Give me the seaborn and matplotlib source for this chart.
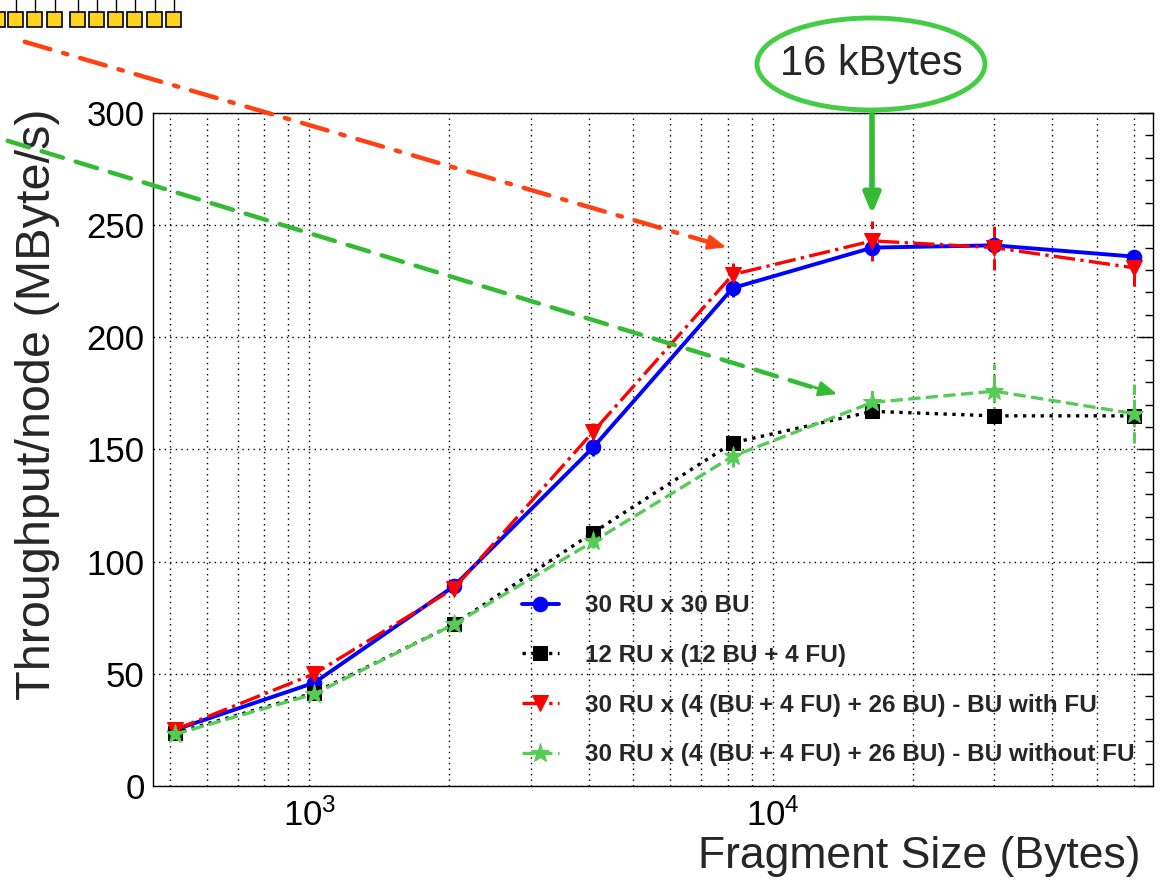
import numpy as np
import pandas as pd
import seaborn as sns
import matplotlib.pyplot as plt
from matplotlib.patches import Ellipse, Rectangle
from matplotlib.lines import Line2D
from matplotlib.ticker import LogLocator, MultipleLocator, NullFormatter

# fragment sizes (bytes)
frag = [512, 1024, 2048, 4096, 8192, 16384, 30000, 60000]

# throughput per node (MByte/s)
tp_30x30 = [25, 46, 89, 151, 222, 240, 241, 236]
tp_12x12 = [23.5, 41.5, 72, 113, 153, 167, 165, 165]
tp_withfu = [25, 50, 88, 158, 228, 243, 240, 231]
tp_withoutfu = [23, 41, 72, 109, 147, 171, 176, 166]

err_30x30 = [1.5, 2, 2, 4, 4, 2, 2, 3]
err_12x12 = [1, 1, 1, 1, 1, 1, 1, 1]
err_withfu = [1.5, 2, 3, 4, 5, 9, 10, 8]
err_withoutfu = [1.5, 2, 2, 3, 5, 7, 12, 13]

labels = ["30 RU x 30 BU",
          "12 RU x (12 BU + 4 FU)",
          "30 RU x (4 (BU + 4 FU) + 26 BU) - BU with FU",
          "30 RU x (4 (BU + 4 FU) + 26 BU) - BU without FU"]

sns.set_style("white")
plt.rcParams['font.family'] = ['Liberation Sans', 'DejaVu Sans']
plt.rcParams['mathtext.fontset'] = 'custom'
plt.rcParams['mathtext.rm'] = 'Liberation Sans'

W, H = 1164, 882
fig = plt.figure(figsize=(W / 100, H / 100), dpi=100)
ax = fig.add_axes([153 / W, 1 - 786 / H, 1000 / W, 673 / H])

df = pd.DataFrame({"frag": frag * 4,
                   "tp": tp_30x30 + tp_12x12 + tp_withfu + tp_withoutfu,
                   "err": err_30x30 + err_12x12 + err_withfu + err_withoutfu,
                   "series": [l for l in labels for _ in frag]})

styles = {
    labels[0]: dict(color="#0000ff", ls="-", marker="o", ms=10.5, lw=2.8),
    labels[1]: dict(color="#000000", ls=":", marker="s", ms=10.5, lw=2.4),
    labels[2]: dict(color="#ff0000", ls="-.", marker="v", ms=12, lw=2.4),
    labels[3]: dict(color="#55cc55", ls="--", marker="*", ms=14, lw=2.4),
}

for lab in labels:
    st = styles[lab]
    sub = df[df.series == lab]
    eb = ax.errorbar(sub.frag, sub.tp, yerr=sub.err, fmt="none",
                     ecolor=st["color"], elinewidth=2.2, zorder=2)
    if st["ls"] != "-":
        eb[2][0].set_linestyle("--")
    sns.lineplot(data=sub, x="frag", y="tp", ax=ax, color=st["color"],
                 linestyle=st["ls"], lw=st["lw"], marker=st["marker"],
                 markersize=st["ms"], markeredgecolor=st["color"],
                 label=lab, zorder=3)

ax.set_xscale("log")
ax.set_xlim(460, 66000)
ax.set_ylim(0, 300)
ax.yaxis.set_major_locator(MultipleLocator(50))
ax.yaxis.set_minor_locator(MultipleLocator(10))
ax.xaxis.set_major_locator(LogLocator(base=10))
ax.xaxis.set_minor_locator(LogLocator(base=10, subs=np.arange(2, 10)))
ax.xaxis.set_minor_formatter(NullFormatter())
ax.tick_params(which="both", direction="in", right=True, top=False,
               labelsize=25, width=1, colors="black")
ax.tick_params(which="major", length=11)
ax.tick_params(which="minor", length=6)
ax.tick_params(axis="y", pad=6)
ax.tick_params(axis="x", pad=9)
ax.grid(which="both", axis="x", color="black", ls=(0, (1, 3)), lw=1)
ax.grid(which="major", axis="y", color="black", ls=(0, (1, 3)), lw=1)
for s in ax.spines.values():
    s.set_color("black")
    s.set_linewidth(1)

ax.set_ylabel("Throughput/node (MByte/s)", fontsize=35, loc="top")
ax.yaxis.set_label_coords(-0.093, 1.007)
ax.set_xlabel("Fragment Size (Bytes)", fontsize=32, loc="right")
ax.xaxis.set_label_coords(0.988, -0.075)

leg = ax.legend(loc="upper left", bbox_to_anchor=(0.357, 0.303), frameon=False,
                prop=dict(size=17.5, weight="bold"), labelspacing=1.1,
                handlelength=1.5, handletextpad=1.1, numpoints=1, borderpad=0)

# annotations in figure pixels (origin top-left of the picture)
def fp(x, y):
    return (x, H - y)

ax.annotate("", xy=fp(712, 243), xytext=fp(22, 41), xycoords="figure pixels",
            arrowprops=dict(arrowstyle="-", color="#ff4010", lw=3.2, ls=(0, (6, 3, 1, 3))))
ax.annotate("", xy=fp(729, 248), xytext=fp(700, 240), xycoords="figure pixels",
            arrowprops=dict(arrowstyle="-|>,head_width=0.45,head_length=1.1",
                            color="#ff4010", lw=2))
ax.annotate("", xy=fp(815, 388), xytext=fp(5, 140), xycoords="figure pixels",
            arrowprops=dict(arrowstyle="-", color="#33bb33", lw=3.2, ls=(0, (5, 3))))
ax.annotate("", xy=fp(840, 395), xytext=fp(810, 386), xycoords="figure pixels",
            arrowprops=dict(arrowstyle="-|>,head_width=0.45,head_length=1.1",
                            color="#33bb33", lw=2))
ax.annotate("", xy=fp(872, 217), xytext=fp(872, 110), xycoords="figure pixels",
            arrowprops=dict(arrowstyle="-|>,head_width=0.5,head_length=1.2",
                            color="#33bb33", lw=4))

fig.patches.append(Ellipse((871 / W, 1 - 64 / H), 228 / W, 92 / H,
                           transform=fig.transFigure, facecolor="white",
                           edgecolor="#44cc44", lw=3.5, zorder=5))
fig.text(871 / W, 1 - 64 / H, "16 kBytes", fontsize=30, ha="center",
         va="center", zorder=6)

# row of little yellow boxes in the top-left corner
box_left = [-10, 8, 27, 47, 70, 89, 108, 127, 147, 166]
for bx in box_left:
    fig.patches.append(Rectangle((bx / W, 1 - 27 / H), 15 / W, 15 / H,
                                 transform=fig.transFigure, facecolor="#ffd41e",
                                 edgecolor="black", lw=1.2))
    fig.lines.append(Line2D([(bx + 7.5) / W] * 2, [1 - 12 / H, 1.0],
                            transform=fig.transFigure, color="black", lw=1))

fig.savefig("out.png", dpi=100)
